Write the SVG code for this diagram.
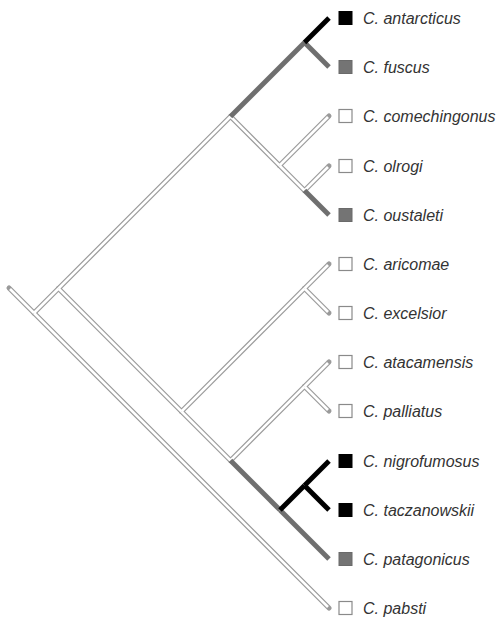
<svg xmlns="http://www.w3.org/2000/svg" width="502" height="622" viewBox="0 0 502 622">
  <style>
    .bo { stroke: #9a9a9a; stroke-width: 5; stroke-linecap: round; fill: none; }
    .bi { stroke: #ffffff; stroke-width: 2.6; stroke-linecap: butt; fill: none; }
    .bg { stroke: #6f6f6f; stroke-width: 5; stroke-linecap: butt; fill: none; }
    .bk { stroke: #000000; stroke-width: 5; stroke-linecap: butt; fill: none; }
    .sq-w { fill: #ffffff; stroke: #8a8a8a; stroke-width: 1.2; }
    .sq-g { fill: #747474; stroke: #6a6a6a; stroke-width: 1; }
    .sq-k { fill: #000000; stroke: #000000; stroke-width: 1; }
    .lbl { font-family: "Liberation Sans", Arial, sans-serif; font-style: italic; font-size: 16px; fill: #333333; }
  </style>

  <rect x="0" y="0" width="502" height="622" fill="#ffffff"/>

  <!-- branches of the cladogram -->
  <g id="connectors">
    <!-- open (double-line) branches: outline first, then white core -->
    <g class="bo">
      <line x1="9" y1="288" x2="34" y2="313"/>
      <line x1="34" y1="313" x2="329" y2="608"/>
      <line x1="34" y1="313" x2="58.5" y2="288.5"/>
      <line x1="58.5" y1="288.5" x2="230.5" y2="116.5"/>
      <line x1="58.5" y1="288.5" x2="181.5" y2="411.5"/>
      <line x1="230.5" y1="116.5" x2="279.5" y2="165.5"/>
      <line x1="279.5" y1="165.5" x2="329" y2="116"/>
      <line x1="279.5" y1="165.5" x2="304.5" y2="190.5"/>
      <line x1="304.5" y1="190.5" x2="329" y2="166"/>
      <line x1="181.5" y1="411.5" x2="304.5" y2="288.5"/>
      <line x1="304.5" y1="288.5" x2="329" y2="264"/>
      <line x1="304.5" y1="288.5" x2="329" y2="313"/>
      <line x1="181.5" y1="411.5" x2="230.5" y2="460.5"/>
      <line x1="230.5" y1="460.5" x2="304.5" y2="386.5"/>
      <line x1="304.5" y1="386.5" x2="329" y2="362"/>
      <line x1="304.5" y1="386.5" x2="329" y2="411"/>
    </g>
    <g class="bi">
      <line x1="10" y1="289" x2="34" y2="313"/>
      <line x1="34" y1="313" x2="328" y2="607"/>
      <line x1="34" y1="313" x2="58.5" y2="288.5"/>
      <line x1="58.5" y1="288.5" x2="230.5" y2="116.5"/>
      <line x1="58.5" y1="288.5" x2="181.5" y2="411.5"/>
      <line x1="230.5" y1="116.5" x2="279.5" y2="165.5"/>
      <line x1="279.5" y1="165.5" x2="328" y2="117"/>
      <line x1="279.5" y1="165.5" x2="304.5" y2="190.5"/>
      <line x1="304.5" y1="190.5" x2="328" y2="167"/>
      <line x1="181.5" y1="411.5" x2="304.5" y2="288.5"/>
      <line x1="304.5" y1="288.5" x2="328" y2="265"/>
      <line x1="304.5" y1="288.5" x2="328" y2="312"/>
      <line x1="181.5" y1="411.5" x2="230.5" y2="460.5"/>
      <line x1="230.5" y1="460.5" x2="304.5" y2="386.5"/>
      <line x1="304.5" y1="386.5" x2="328" y2="363"/>
      <line x1="304.5" y1="386.5" x2="328" y2="410"/>
    </g>
    <!-- grey branches -->
    <g class="bg">
      <line x1="230.5" y1="116.5" x2="304.5" y2="42.5"/>
      <line x1="304.5" y1="42.5" x2="329" y2="67"/>
      <line x1="304.5" y1="190.5" x2="329" y2="215"/>
      <line x1="230.5" y1="460.5" x2="280" y2="510"/>
      <line x1="280" y1="510" x2="329" y2="559"/>
    </g>
    <!-- black branches -->
    <g class="bk">
      <line x1="304.5" y1="42.5" x2="329" y2="18"/>
      <line x1="280" y1="510" x2="304.5" y2="485.5"/>
      <line x1="304.5" y1="485.5" x2="329" y2="461"/>
      <line x1="304.5" y1="485.5" x2="329" y2="510"/>
    </g>
  </g>

  <!-- terminal taxa -->
  <g id="antarcticus"><rect class="sq-k" x="339" y="11.5" width="13" height="13"/><text class="lbl" x="363" y="24">C. antarcticus</text></g>
  <g id="fuscus"><rect class="sq-g" x="339" y="60.5" width="13" height="13"/><text class="lbl" x="363" y="73">C. fuscus</text></g>
  <g id="comechingonus"><rect class="sq-w" x="339" y="109.5" width="13" height="13"/><text class="lbl" x="363" y="122">C. comechingonus</text></g>
  <g id="olrogi"><rect class="sq-w" x="339" y="159.5" width="13" height="13"/><text class="lbl" x="363" y="172">C. olrogi</text></g>
  <g id="oustaleti"><rect class="sq-g" x="339" y="208.5" width="13" height="13"/><text class="lbl" x="363" y="221">C. oustaleti</text></g>
  <g id="aricomae"><rect class="sq-w" x="339" y="257.5" width="13" height="13"/><text class="lbl" x="363" y="270">C. aricomae</text></g>
  <g id="excelsior"><rect class="sq-w" x="339" y="306.5" width="13" height="13"/><text class="lbl" x="363" y="319">C. excelsior</text></g>
  <g id="atacamensis"><rect class="sq-w" x="339" y="355.5" width="13" height="13"/><text class="lbl" x="363" y="368">C. atacamensis</text></g>
  <g id="palliatus"><rect class="sq-w" x="339" y="404.5" width="13" height="13"/><text class="lbl" x="363" y="417">C. palliatus</text></g>
  <g id="nigrofumosus"><rect class="sq-k" x="339" y="454.5" width="13" height="13"/><text class="lbl" x="363" y="467">C. nigrofumosus</text></g>
  <g id="taczanowskii"><rect class="sq-k" x="339" y="503.5" width="13" height="13"/><text class="lbl" x="363" y="516">C. taczanowskii</text></g>
  <g id="patagonicus"><rect class="sq-g" x="339" y="552.5" width="13" height="13"/><text class="lbl" x="363" y="565">C. patagonicus</text></g>
  <g id="pabsti"><rect class="sq-w" x="339" y="601.5" width="13" height="13"/><text class="lbl" x="363" y="614">C. pabsti</text></g>
</svg>
